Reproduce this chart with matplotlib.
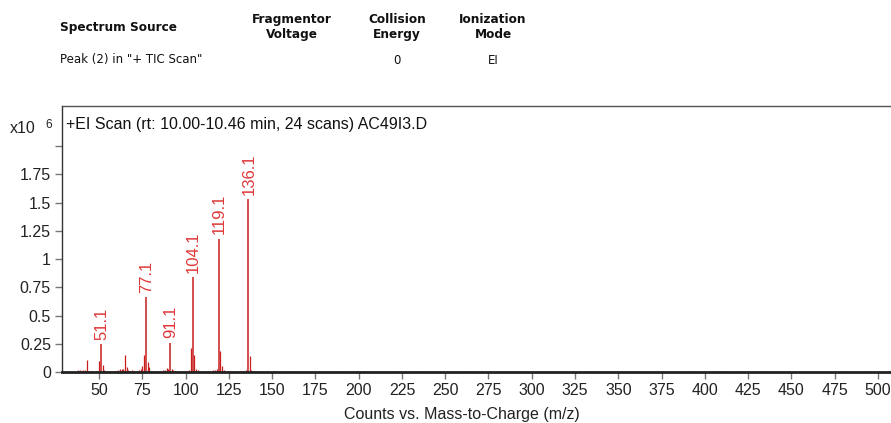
import matplotlib
matplotlib.use("Agg")
import matplotlib.pyplot as plt
from matplotlib.ticker import FixedLocator

# ---- data (intensity in units of 1e6 counts) ----
major_mz = [51.1, 77.1, 91.1, 104.1, 119.1, 136.1]
major_int = [0.245, 0.66, 0.26, 0.84, 1.18, 1.53]

minor_mz = [38, 39, 40, 41, 42, 43, 44, 45, 46, 48, 49, 50, 52, 53, 54, 55, 56, 57,
            58, 59, 60, 61, 62, 63, 64, 65, 66, 67, 68, 69, 70, 71, 72, 73, 74, 75,
            76, 78, 79, 80, 81, 82, 83, 84, 85, 86, 87, 88, 89, 90, 92, 93, 94, 95,
            96, 97, 98, 99, 100, 101, 102, 103, 105, 106, 107, 108, 109, 110, 111,
            112, 113, 114, 115, 116, 117, 118, 120, 121, 122, 123, 124, 125, 126,
            127, 128, 129, 130, 131, 132, 133, 134, 135, 137, 138, 139]
minor_int = [0.015, 0.02, 0.012, 0.02, 0.015, 0.11, 0.01, 0.008, 0.006, 0.01, 0.012,
             0.10, 0.06, 0.02, 0.01, 0.008, 0.006, 0.01, 0.008, 0.006, 0.01, 0.015,
             0.025, 0.03, 0.025, 0.15, 0.04, 0.02, 0.01, 0.015, 0.008, 0.01, 0.01,
             0.02, 0.03, 0.05, 0.15, 0.09, 0.04, 0.01, 0.008, 0.006, 0.005, 0.006,
             0.01, 0.012, 0.015, 0.02, 0.035, 0.025, 0.03, 0.015, 0.008, 0.006,
             0.005, 0.005, 0.006, 0.008, 0.01, 0.012, 0.015, 0.21, 0.15, 0.03, 0.015,
             0.01, 0.008, 0.006, 0.005, 0.006, 0.008, 0.01, 0.012, 0.015, 0.02,
             0.03, 0.19, 0.05, 0.02, 0.01, 0.008, 0.006, 0.005, 0.005, 0.006, 0.008,
             0.006, 0.005, 0.006, 0.008, 0.01, 0.015, 0.14, 0.02, 0.008]

noise_mz = [141, 143, 145, 147, 149, 151, 153, 155, 157, 159, 161, 163, 165, 167,
            169, 171, 173, 175, 177, 179, 181, 183, 185, 187, 189, 191, 193, 195,
            197, 199, 201, 203, 205, 207, 209, 211, 213, 215, 217, 219, 221, 223,
            225, 227, 229, 231, 233, 235, 237, 239, 241, 243, 245, 247, 249, 251,
            253, 255, 257, 259, 261, 263, 265, 267, 269, 271, 276, 281, 287, 292,
            297, 303, 308, 313, 317, 320, 323, 328, 330, 332, 334, 336, 338, 340,
            346, 348, 350, 352, 354, 357, 359, 376, 393, 405, 407, 409, 411, 413,
            419, 433, 482, 493]
noise_int = [0.008, 0.007, 0.008, 0.006, 0.007, 0.008, 0.006, 0.007, 0.006, 0.007,
             0.006, 0.007, 0.006, 0.006, 0.007, 0.006, 0.006, 0.007, 0.006, 0.006,
             0.006, 0.007, 0.006, 0.006, 0.006, 0.006, 0.006, 0.007, 0.006, 0.006,
             0.006, 0.006, 0.006, 0.006, 0.006, 0.006, 0.006, 0.006, 0.006, 0.006,
             0.006, 0.006, 0.006, 0.006, 0.006, 0.006, 0.006, 0.006, 0.006, 0.006,
             0.006, 0.006, 0.006, 0.006, 0.006, 0.006, 0.006, 0.006, 0.006, 0.006,
             0.006, 0.006, 0.006, 0.006, 0.006, 0.006, 0.005, 0.005, 0.005, 0.005,
             0.005, 0.005, 0.005, 0.005, 0.005, 0.005, 0.005, 0.005, 0.005, 0.005,
             0.005, 0.005, 0.005, 0.005, 0.005, 0.005, 0.005, 0.005, 0.005, 0.005,
             0.005, 0.005, 0.005, 0.005, 0.005, 0.005, 0.005, 0.005, 0.005, 0.005,
             0.005, 0.005]

x_ticks = list(range(50, 501, 25))
y_ticks = [0, 0.25, 0.5, 0.75, 1.0, 1.25, 1.5, 1.75, 2.0]
y_tick_labels = ["0", "0.25", "0.5", "0.75", "1", "1.25", "1.5", "1.75", ""]

title = "+EI Scan (rt: 10.00-10.46 min, 24 scans) AC49I3.D"
xlabel = "Counts vs. Mass-to-Charge (m/z)"

hdr_cols = ["Spectrum Source", "Fragmentor\nVoltage", "Collision\nEnergy", "Ionization\nMode"]
hdr_vals = ['Peak (2) in "+ TIC Scan"', "", "0", "EI"]

# ---- figure ----
W, H = 891, 423
fig = plt.figure(figsize=(W / 100, H / 100), dpi=100)
fig.patch.set_facecolor("white")

def fx(px):
    return px / W

def fy(py):
    return 1 - py / H

L, R, T, B = 62, 893, 106, 372
ax = fig.add_axes([fx(L), fy(B), fx(R) - fx(L), fy(T) - fy(B)])

red = "#c81e1e"
lab_red = "#e03838"
ax.vlines(noise_mz, 0, noise_int, color=red, lw=0.8)
ax.vlines(minor_mz, 0, minor_int, color=red, lw=0.9)
ax.vlines(major_mz, 0, major_int, color=red, lw=1.1)

for m, v in zip(major_mz, major_int):
    ax.annotate(f"{m:.1f}", (m, v), xytext=(0.5, 3), textcoords="offset points",
                rotation=90, ha="center", va="bottom", color=lab_red,
                fontsize=12, family="Liberation Sans")

ax.set_xlim(28.6, 508.7)
ax.set_ylim(0, 2.354)

ax.xaxis.set_major_locator(FixedLocator(x_ticks))
ax.set_xticklabels([str(t) for t in x_ticks])
ax.yaxis.set_major_locator(FixedLocator(y_ticks))
ax.set_yticklabels(y_tick_labels)

for lbl in ax.get_xticklabels() + ax.get_yticklabels():
    lbl.set_family("Liberation Sans")
    lbl.set_fontsize(11.5)
    lbl.set_color("#222222")

ax.tick_params(axis="both", direction="out", length=5, width=1, color="#777777", pad=3)
ax.spines["right"].set_visible(False)
ax.spines["left"].set_color("#333333")
ax.spines["left"].set_linewidth(1.0)
ax.spines["top"].set_color("#555555")
ax.spines["top"].set_linewidth(1.0)
ax.spines["bottom"].set_color("#222222")
ax.spines["bottom"].set_linewidth(2.0)

fig.text(fx(66), fy(124), title, ha="left", va="center",
         fontsize=11.5, family="Liberation Sans", color="#111111")

fig.text(fx(10), fy(133), "x10", ha="left", va="baseline", fontsize=11.5,
         family="Liberation Sans", color="#222222")
fig.text(fx(45), fy(125), "6", ha="left", va="center", fontsize=8.5,
         family="Liberation Sans", color="#222222")

fig.text(fx(462), fy(419), xlabel, ha="center", va="baseline", fontsize=11.5,
         family="Liberation Sans", color="#222222")

# header table
hdr_x = [60, 292, 397, 493]
hdr_ha = ["left", "center", "center", "center"]
for txt, x, ha in zip(hdr_cols, hdr_x, hdr_ha):
    fig.text(fx(x), fy(27), txt, ha=ha, va="center", fontsize=8.7,
             fontweight="bold", family="DejaVu Sans", color="#111111",
             linespacing=1.25)
for val, x, ha in zip(hdr_vals, hdr_x, hdr_ha):
    if val:
        fig.text(fx(x), fy(60), val, ha=ha, va="center", fontsize=8.5,
                 family="DejaVu Sans", color="#111111")

fig.savefig("out.png", dpi=100, facecolor="white")
